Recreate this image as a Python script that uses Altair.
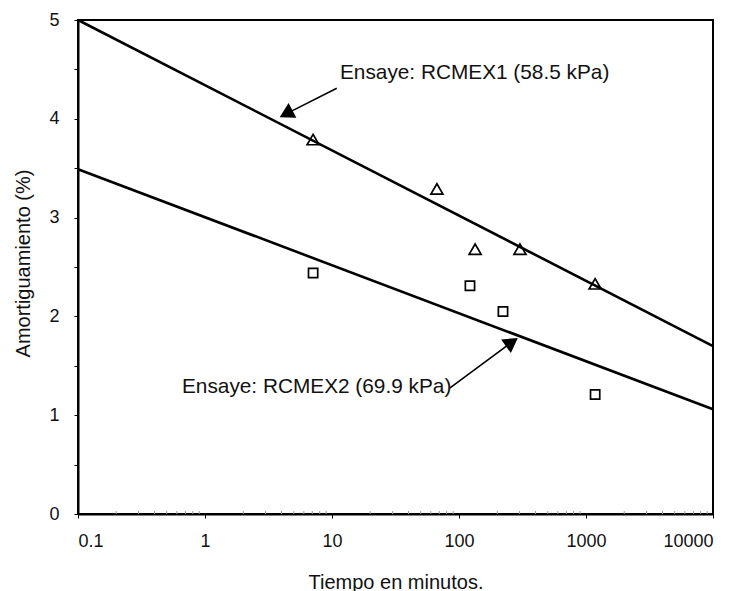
import altair as alt
import pandas as pd

# ---- data ----
tri_x = [7.1, 67, 134, 302, 1180]          # RCMEX1 (triangles)
tri_y = [3.79, 3.29, 2.68, 2.68, 2.33]
sq_x = [7.1, 122, 222, 1180]               # RCMEX2 (squares)
sq_y = [2.44, 2.31, 2.05, 1.21]
fit_x = [0.1, 10000]
fit1_y = [5.0, 1.70]
fit2_y = [3.49, 1.06]

labels = ["Ensaye: RCMEX1 (58.5 kPa)", "Ensaye: RCMEX2 (69.9 kPa)"]
label_x = [11.56, 0.659]
label_y = [4.40, 1.225]
arrow_start_x = [10.9, 84.5]
arrow_start_y = [4.31, 1.275]
arrow_head_x = [4.35, 261]
arrow_head_y = [4.05, 1.74]
arrow_angle = [242, 54.5]

x_ticks = [0.1, 1, 10, 100, 1000, 10000]
x_minor = [m * d for d in [0.1, 1, 10, 100, 1000] for m in range(2, 10)]
y_ticks = [0, 0.5, 1, 1.5, 2, 2.5, 3, 3.5, 4, 4.5, 5]

W, H = 635, 494
FONT = "Liberation Sans"

tri = pd.DataFrame({"t": tri_x, "a": tri_y})
sq = pd.DataFrame({"t": sq_x, "a": sq_y})
fits = pd.DataFrame({"t": fit_x * 2, "a": fit1_y + fit2_y,
                     "s": ["RCMEX1"] * 2 + ["RCMEX2"] * 2})
lab = pd.DataFrame({"t": label_x, "a": label_y, "txt": labels})
arr = pd.DataFrame({"t": arrow_start_x, "a": arrow_start_y,
                    "t2": arrow_head_x, "a2": arrow_head_y, "ang": arrow_angle})
minor = pd.DataFrame({"t": x_minor})

xs = alt.Scale(type="log", domain=[0.1, 10000], nice=False)
ys = alt.Scale(domain=[0, 5], nice=False, zero=False)

X = alt.X("t:Q", scale=xs, title="Tiempo en minutos.",
          axis=alt.Axis(values=x_ticks, format="~g", grid=False,
                        domainColor="black", domainWidth=2,
                        tickColor="black", tickSize=4, tickWidth=1,
                        labelFont=FONT, labelFontSize=18, labelColor="#111",
                        labelPadding=14,
                        titleFont=FONT, titleFontSize=20, titleFontWeight="normal",
                        titleColor="#111", titleY=74, titleBaseline="alphabetic"))
Y = alt.Y("a:Q", scale=ys, title="Amortiguamiento (%)",
          axis=alt.Axis(values=y_ticks,
                        labelExpr="datum.value % 1 == 0 ? format(datum.value, 'd') : ''",
                        grid=False, domainColor="black", domainWidth=2,
                        tickColor="black", tickSize=4, tickWidth=1,
                        labelFont=FONT, labelFontSize=18, labelColor="#111",
                        labelPadding=15,
                        titleFont=FONT, titleFontSize=20, titleFontWeight="normal",
                        titleColor="#111", titleX=-55, titleY=H / 2 - 4,
                        titleAngle=270, titleBaseline="middle", titleAlign="center"))

minor_ticks = alt.Chart(minor).mark_rule(color="#999", strokeWidth=1).encode(
    x=alt.X("t:Q", scale=xs), y=alt.value(H), y2=alt.value(H - 3))

lines = alt.Chart(fits).mark_line(color="black", strokeWidth=2.6).encode(
    x=X, y=Y, detail="s:N")

tris = alt.Chart(tri).mark_point(shape="triangle-up", size=145, filled=False,
                                 color="black", strokeWidth=1.7, opacity=1).encode(
    x=alt.X("t:Q", scale=xs), y=alt.Y("a:Q", scale=ys))

sqs = alt.Chart(sq).mark_point(shape="square", size=85, filled=False,
                               color="black", strokeWidth=1.7, opacity=1).encode(
    x=alt.X("t:Q", scale=xs), y=alt.Y("a:Q", scale=ys))

arrow_lines = alt.Chart(arr).mark_rule(color="black", strokeWidth=1.6).encode(
    x=alt.X("t:Q", scale=xs), y=alt.Y("a:Q", scale=ys), x2="t2:Q", y2="a2:Q")

arrow_heads = alt.Chart(arr).mark_point(shape="triangle-up", size=280, filled=True,
                                        color="black", opacity=1).encode(
    x=alt.X("t2:Q", scale=xs), y=alt.Y("a2:Q", scale=ys),
    angle=alt.Angle("ang:Q", scale=None))

texts = alt.Chart(lab).mark_text(align="left", baseline="alphabetic", font=FONT,
                                 fontSize=20.8, color="#111").encode(
    x=alt.X("t:Q", scale=xs), y=alt.Y("a:Q", scale=ys), text="txt:N")

chart = alt.layer(lines, minor_ticks, tris, sqs, arrow_lines, arrow_heads, texts).properties(
    width=W, height=H,
    autosize=alt.AutoSizeParams(type="none"),
    padding={"left": 78, "top": 20, "right": 29, "bottom": 77},
    background="white",
).configure_view(stroke="black", strokeWidth=2)

chart.save("out.html", embed_options={"renderer": "svg", "actions": False})
